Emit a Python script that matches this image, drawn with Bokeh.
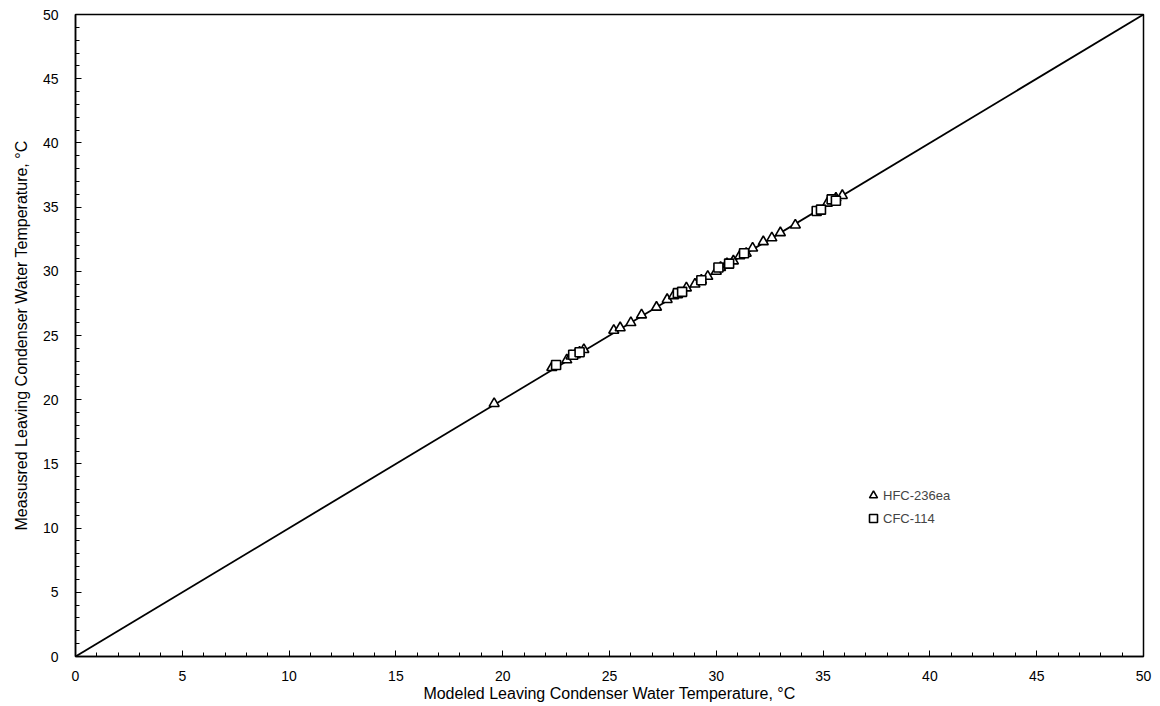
from bokeh.plotting import figure
from bokeh.models import Range1d, Legend, LegendItem, SingleIntervalTicker
from bokeh.embed import file_html
from bokeh.resources import INLINE

# HFC-236ea (triangles): modeled vs measured leaving condenser water temperature, °C
hfc_modeled = [19.6, 22.3, 23.0, 23.2, 23.4, 23.6, 23.8, 25.2, 25.5, 26.0, 26.5, 27.2,
               27.7, 28.0, 28.6, 29.0, 29.3, 29.6, 30.0, 30.2, 30.5, 30.8, 31.1, 31.4,
               31.7, 32.2, 32.6, 33.0, 33.7, 35.2, 35.6, 35.9]
hfc_measured = [19.7, 22.5, 23.1, 23.4, 23.5, 23.7, 23.9, 25.4, 25.6, 26.0, 26.6, 27.2,
                27.8, 28.1, 28.7, 29.0, 29.3, 29.6, 30.0, 30.3, 30.6, 30.8, 31.2, 31.4,
                31.8, 32.3, 32.6, 33.0, 33.6, 35.3, 35.7, 35.9]

# CFC-114 (squares)
cfc_modeled = [22.5, 23.3, 23.6, 28.2, 28.4, 29.3, 30.1, 30.6, 31.3, 34.7, 34.9, 35.4, 35.6]
cfc_measured = [22.7, 23.5, 23.7, 28.3, 28.4, 29.3, 30.3, 30.6, 31.4, 34.7, 34.8, 35.6, 35.5]

# 1:1 reference line
line_x = [0, 50]
line_y = [0, 50]

FONT = "Liberation Sans"

p = figure(width=1152, height=704, output_backend="svg", toolbar_location=None,
           x_range=Range1d(0, 50), y_range=Range1d(0, 50),
           min_border_left=75, min_border_right=9, min_border_top=14, min_border_bottom=48)

p.background_fill_color = "white"
p.border_fill_color = "white"
p.outline_line_color = "black"
p.outline_line_width = 1.5
p.xgrid.visible = False
p.ygrid.visible = False

p.line(line_x, line_y, line_color="black", line_width=1.8)

tri = p.scatter(hfc_modeled, hfc_measured, marker="triangle", size=10,
                line_color="black", line_width=1.6, fill_color="white")
sq = p.scatter(cfc_modeled, cfc_measured, marker="square", size=9,
               line_color="black", line_width=1.6, fill_color="white")

for ax in (p.xaxis[0], p.yaxis[0]):
    ax.ticker = SingleIntervalTicker(interval=5, num_minor_ticks=5)
    ax.axis_line_color = "black"
    ax.axis_line_width = 1.5
    ax.major_tick_in = 6
    ax.major_tick_out = 0
    ax.minor_tick_in = 4
    ax.minor_tick_out = 0
    ax.major_tick_line_color = "black"
    ax.minor_tick_line_color = "black"
    ax.major_label_text_font = FONT
    ax.major_label_text_font_size = "14px"
    ax.major_label_text_color = "black"
    ax.axis_label_text_font = FONT
    ax.axis_label_text_font_size = "16px"
    ax.axis_label_text_font_style = "normal"
    ax.axis_label_text_color = "black"

p.xaxis.axis_label = "Modeled Leaving Condenser Water Temperature, °C"
p.yaxis.axis_label = "Measusred Leaving Condenser Water Temperature, °C"
p.xaxis.major_label_standoff = 14
p.xaxis.axis_label_standoff = 1
p.yaxis.major_label_standoff = 17
p.yaxis.axis_label_standoff = 10

legend = Legend(items=[LegendItem(label="HFC-236ea", renderers=[tri]),
                       LegendItem(label="CFC-114", renderers=[sq])],
                location=(788, 127))
legend.border_line_color = None
legend.background_fill_alpha = 0
legend.label_text_font = FONT
legend.label_text_font_size = "13px"
legend.glyph_width = 20
legend.glyph_height = 22
legend.label_height = 22
legend.label_standoff = 0
legend.spacing = 1
legend.padding = 0
legend.margin = 0
p.add_layout(legend, "center")

open("out.html", "w").write(file_html(p, INLINE))
